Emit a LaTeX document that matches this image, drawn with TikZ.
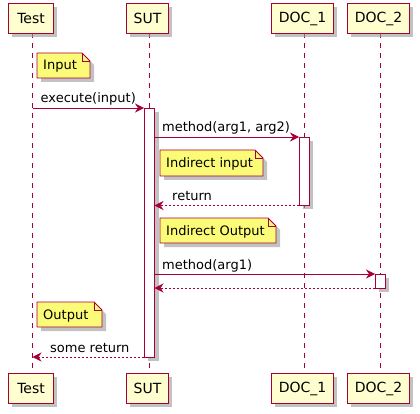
\documentclass[tikz,border=0pt]{standalone}
\usepackage{fontspec}
\setmainfont{DejaVu Sans}
\usetikzlibrary{arrows.meta}
\definecolor{bord}{HTML}{A80036}
\definecolor{partfill}{HTML}{FEFECE}
\definecolor{notefill}{HTML}{FBFB77}
\definecolor{shade}{HTML}{9A9A9A}
\begin{document}
\begin{tikzpicture}[x=1pt,y=-1pt,
  part/.style={draw=bord,fill=partfill,line width=1.1pt,minimum height=30pt,inner sep=0pt,
    font=\fontsize{14}{16}\selectfont},
  lifeline/.style={draw=bord,line width=0.8pt,dash pattern=on 5pt off 5pt},
  act/.style={draw=bord,fill=white,line width=0.8pt},
  msg/.style={draw=bord,line width=0.8pt,-{Stealth[length=9pt,width=9pt,inset=3pt]}},
  ret/.style={msg,dash pattern=on 2pt off 2pt},
  lbl/.style={font=\fontsize{13}{15}\selectfont,inner sep=0pt,anchor=base west},
  notetxt/.style={font=\fontsize{13}{15}\selectfont,inner sep=0pt,anchor=base west},
  shadow/.style={fill=shade,opacity=0.6}
]
\useasboundingbox (0,0) rectangle (420,414);

% participant boxes helper via macro
\newcommand{\partbox}[6]{% name, x1, x2, y1, y2, text
  \fill[shadow] (#2+4,#4+4) rectangle (#3+4,#5+4);
  \node[part,minimum width=#3-#2,anchor=north west] (#1) at (#2,#4) {#6};
}
\newcommand{\notebox}[6]{% name, x1, x2, y1, y2, text
  \fill[shadow] (#2+4,#4+4) -- (#3+4-8,#4+4) -- (#3+4,#4+4+8) -- (#3+4,#5+4) -- (#2+4,#5+4) -- cycle;
  \draw[bord,fill=notefill,line width=0.8pt] (#2,#4) -- (#3-8,#4) -- (#3,#4+8) -- (#3,#5) -- (#2,#5) -- cycle;
  \draw[bord,line width=0.8pt] (#3-8,#4) -- (#3-8,#4+8) -- (#3,#4+8);
  \node[notetxt] (#1) at (#2+6,#5-8) {#6};
}

% lifelines
\draw[lifeline] (32.5,33) -- (32.5,373);
\draw[lifeline] (149,33) -- (149,373);
\draw[lifeline] (304,33) -- (304,373);
\draw[lifeline] (380,33) -- (380,373);

\partbox{ttop}{8}{53}{3}{33}{Test}
\partbox{stop}{126}{168}{3}{33}{SUT}
\partbox{d1top}{271}{333}{3}{33}{DOC\_1}
\partbox{d2top}{347}{409}{3}{33}{DOC\_2}
\partbox{tbot}{8}{53}{373}{403}{Test}
\partbox{sbot}{126}{168}{373}{403}{SUT}
\partbox{d1bot}{271}{333}{373}{403}{DOC\_1}
\partbox{d2bot}{347}{409}{373}{403}{DOC\_2}

% activations
\fill[shadow] (148,112) rectangle (159,361);
\draw[act] (144,108) rectangle (154.5,357);
\fill[shadow] (303,141) rectangle (313,209);
\draw[act] (299,137) rectangle (309.5,205.5);
\fill[shadow] (379,278) rectangle (389,292);
\draw[act] (375,274) rectangle (385.5,288);

% coordinates
\coordinate (t1) at (32.5,108);
\coordinate (s1) at (144,108);
\coordinate (s2) at (154.5,137);
\coordinate (d1a) at (299,137);
\coordinate (d1b) at (299,205.5);
\coordinate (s3) at (154.5,205.5);
\coordinate (s4) at (154.5,274);
\coordinate (d2a) at (375,274);
\coordinate (d2b) at (375,288);
\coordinate (s5) at (154.5,288);
\coordinate (s6) at (144,357);
\coordinate (t6) at (32.5,357);

\notebox{n1}{37}{90}{53}{78}{Input}
\notebox{n2}{160}{263}{150}{176}{Indirect input}
\notebox{n3}{160}{276}{218}{243}{Indirect Output}
\notebox{n4}{37}{102}{302}{327}{Output}

\draw[msg] (t1) -- (s1);
\node[lbl] (m1) at (40.5,103) {execute(input)};
\draw[msg] (s2) -- (d1a);
\node[lbl] (m2) at (162,132) {method(arg1, arg2)};
\draw[ret] (d1b) -- (s3);
\node[lbl] (m3) at (172,200.5) {return};
\draw[msg] (s4) -- (d2a);
\node[lbl] (m4) at (162,269) {method(arg1)};
\draw[ret] (d2b) -- (s5);
\draw[ret] (s6) -- (t6);
\node[lbl] (m6) at (50,352) {some return};
\end{tikzpicture}
\end{document}
